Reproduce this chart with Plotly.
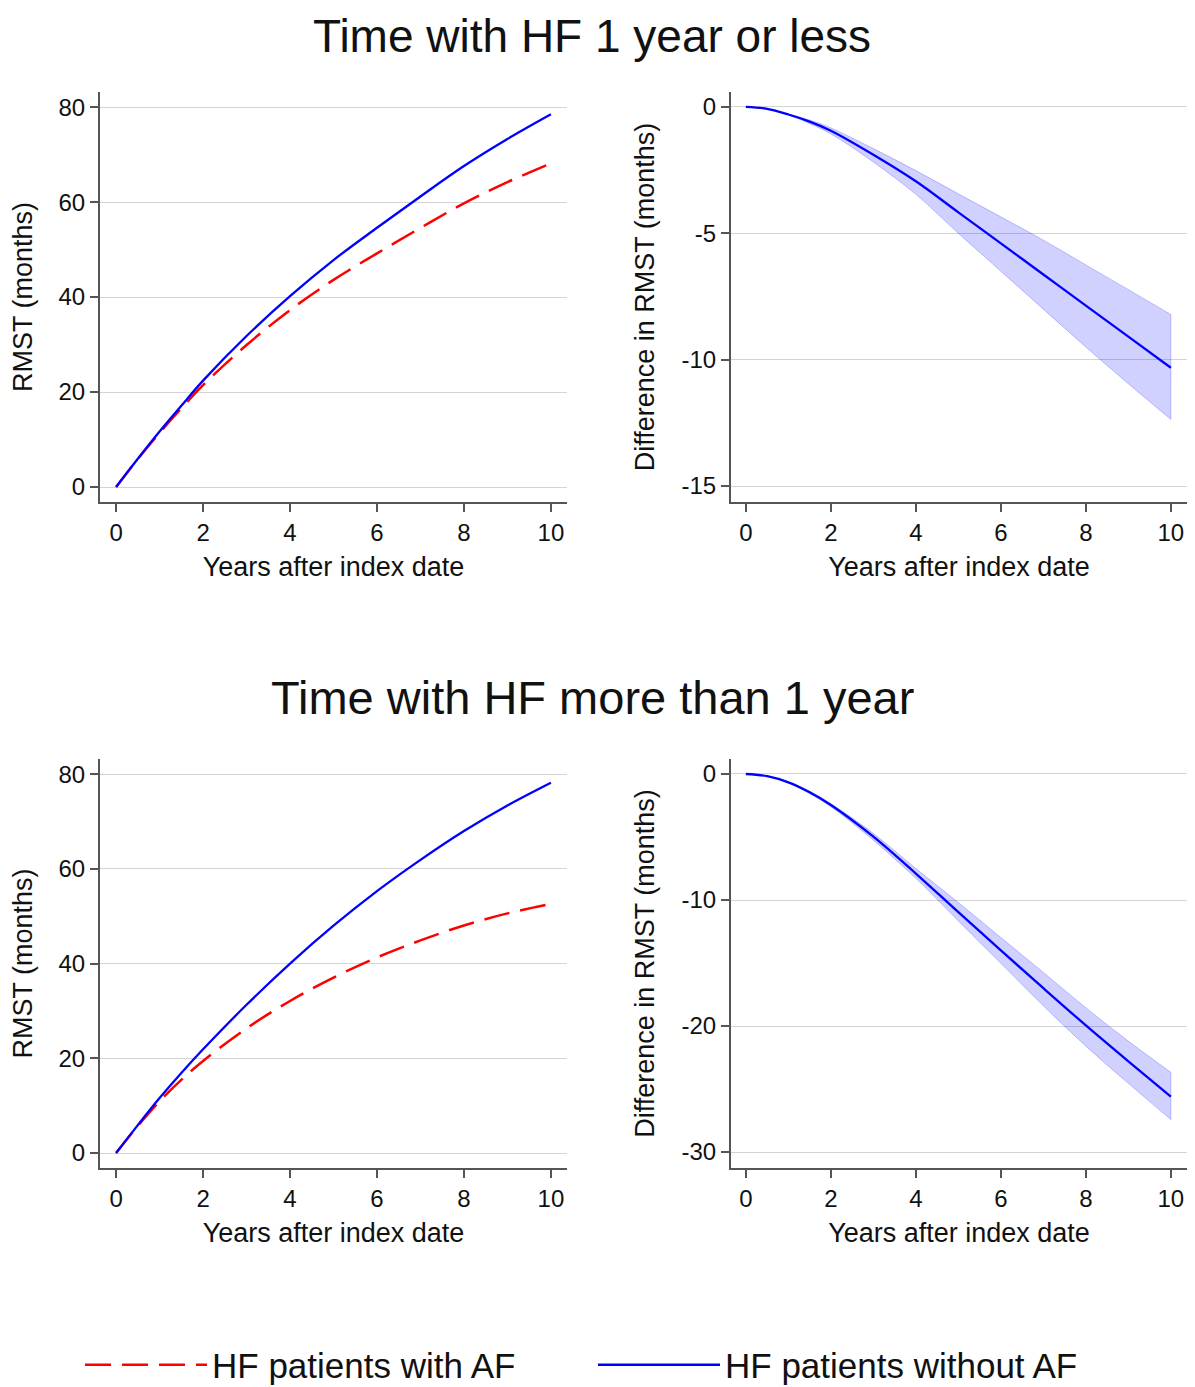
import plotly.graph_objects as go

# ---------------- data ----------------
years = [0, 0.5, 1, 1.5, 2, 3, 4, 5, 6, 7, 8, 9, 10]

# Panel A: time with HF 1 year or less
a_without_af = [0, 5.95, 11.7, 17.1, 22.4, 31.8, 40.2, 47.8, 54.6, 61.2, 67.6, 73.3, 78.5]
a_with_af = [0, 5.9, 11.4, 16.55, 21.45, 29.9, 37.26, 43.63, 49.2, 54.57, 59.74, 64.21, 68.18]
a_diff = [0, -0.08, -0.3, -0.58, -0.94, -1.89, -2.94, -4.17, -5.4, -6.63, -7.86, -9.09, -10.32]
a_diff_lo = [0, -0.09, -0.32, -0.66, -1.07, -2.18, -3.46, -5.0, -6.5, -8.0, -9.5, -10.95, -12.36]
a_diff_hi = [0, -0.07, -0.28, -0.52, -0.83, -1.65, -2.52, -3.44, -4.35, -5.27, -6.25, -7.23, -8.21]

# Panel B: time with HF more than 1 year
b_without_af = [0, 5.9, 11.6, 16.9, 21.9, 31.3, 40.0, 48.0, 55.3, 61.9, 68.0, 73.4, 78.2]
b_with_af = [0, 5.73, 10.94, 15.45, 19.44, 26.33, 32.1, 37.03, 41.3, 44.9, 48.05, 50.6, 52.6]
b_diff = [0, -0.17, -0.66, -1.45, -2.46, -4.97, -7.9, -10.97, -14.0, -17.0, -19.95, -22.8, -25.6]
b_diff_lo = [0, -0.18, -0.7, -1.55, -2.6, -5.25, -8.28, -11.66, -15.03, -18.4, -21.6, -24.55, -27.42]
b_diff_hi = [0, -0.16, -0.63, -1.37, -2.35, -4.72, -7.5, -10.2, -12.98, -15.75, -18.55, -21.2, -23.68]

x_ticks = [0, 2, 4, 6, 8, 10]
rmst_ticks = [0, 20, 40, 60, 80]
a_diff_ticks = [0, -5, -10, -15]
a_diff_ticklabels = ["0", "-5", "-10", "-15"]
b_diff_ticks = [0, -10, -20, -30]
b_diff_ticklabels = ["0", "-10", "-20", "-30"]

titles = ["Time with HF 1 year or less", "Time with HF more than 1 year"]
legend_names = ["HF patients with AF", "HF patients without AF"]
x_title = "Years after index date"
rmst_title = "RMST (months)"
diff_title = "Difference in RMST (months)"

# ---------------- styling ----------------
# the page body has an 8px margin, so the figure is 8px smaller than the window
OFF = 8
W, H = 1195 - OFF, 1387 - OFF
FONT = "Liberation Sans, Arial, sans-serif"
RED = "#ff0000"
BLUE = "#0000ff"
BAND_FILL = "rgba(0,0,255,0.18)"
BAND_LINE = "rgba(0,0,255,0.22)"
AXIS_COL = "#555555"
GRID_COL = "#d4d4d4"
TXT = "#111111"


def px_x(p):
    # p: screen x pixel in the 1195x1387 window
    return (p - OFF) / W


def py(p):
    return 1 - (p - OFF) / H


fig = go.Figure()

panels = [
    ("x", "y", "rmst", a_with_af, a_without_af),
    ("x2", "y2", "diff", a_diff, a_diff_lo, a_diff_hi),
    ("x3", "y3", "rmst", b_with_af, b_without_af),
    ("x4", "y4", "diff", b_diff, b_diff_lo, b_diff_hi),
]

for i, p in enumerate(panels):
    xa, ya, kind = p[0], p[1], p[2]
    if kind == "rmst":
        with_af, without_af = p[3], p[4]
        fig.add_trace(go.Scatter(
            x=years, y=with_af, xaxis=xa, yaxis=ya, mode="lines",
            line=dict(color=RED, width=2.5, dash="26px,11px", shape="spline"),
            name=legend_names[0], showlegend=(i == 0), legendrank=1,
            hoverinfo="skip"))
        fig.add_trace(go.Scatter(
            x=years, y=without_af, xaxis=xa, yaxis=ya, mode="lines",
            line=dict(color=BLUE, width=2.3, shape="spline"),
            name=legend_names[1], showlegend=(i == 0), legendrank=2,
            hoverinfo="skip"))
    else:
        diff, lo, hi = p[3], p[4], p[5]
        fig.add_trace(go.Scatter(
            x=years, y=lo, xaxis=xa, yaxis=ya, mode="lines",
            line=dict(color=BAND_LINE, width=1, shape="spline"),
            showlegend=False, hoverinfo="skip"))
        fig.add_trace(go.Scatter(
            x=years, y=hi, xaxis=xa, yaxis=ya, mode="lines",
            line=dict(color=BAND_LINE, width=1, shape="spline"),
            fill="tonexty", fillcolor=BAND_FILL,
            showlegend=False, hoverinfo="skip"))
        fig.add_trace(go.Scatter(
            x=[years[-1], years[-1]], y=[lo[-1], hi[-1]], xaxis=xa, yaxis=ya,
            mode="lines", line=dict(color=BAND_LINE, width=1),
            showlegend=False, hoverinfo="skip"))
        fig.add_trace(go.Scatter(
            x=years, y=diff, xaxis=xa, yaxis=ya, mode="lines",
            line=dict(color=BLUE, width=2.3, shape="spline"),
            showlegend=False, hoverinfo="skip"))

tick_font = dict(family=FONT, size=24, color=TXT)
title_font = dict(family=FONT, size=27, color=TXT)


def xaxis_cfg(domain, anchor, rng):
    return dict(
        domain=domain, anchor=anchor, range=rng, automargin=False,
        tickmode="array", tickvals=x_ticks,
        showline=True, linecolor=AXIS_COL, linewidth=2,
        ticks="outside", ticklen=8, tickwidth=2, tickcolor=AXIS_COL,
        showgrid=False, zeroline=False,
        tickfont=tick_font, ticklabelstandoff=0,
        title=dict(text=x_title, font=title_font, standoff=12),
    )


def yaxis_cfg(domain, anchor, rng, ticks, labels, title, standoff):
    return dict(
        domain=domain, anchor=anchor, range=rng, automargin=False,
        tickmode="array", tickvals=ticks, ticktext=labels,
        showline=True, linecolor=AXIS_COL, linewidth=2,
        ticks="outside", ticklen=8, tickwidth=2, tickcolor=AXIS_COL,
        showgrid=True, gridcolor=GRID_COL, gridwidth=1.2, zeroline=False,
        tickfont=tick_font, ticklabelstandoff=0,
        title=dict(text=title, font=title_font, standoff=standoff),
    )


left_dom = [px_x(100), px_x(567)]
right_dom = [px_x(731), px_x(1187)]
top_dom = [py(502), py(92)]
bot_dom = [py(1168), py(759)]
rmst_labels = [str(v) for v in rmst_ticks]

fig.update_layout(
    width=W, height=H,
    margin=dict(l=0, r=0, t=0, b=0, autoexpand=False),
    paper_bgcolor="white", plot_bgcolor="white",
    font=dict(family=FONT, color=TXT),
    xaxis=xaxis_cfg(left_dom, "y", [-0.37, 10.37]),
    yaxis=yaxis_cfg(top_dom, "x", [-3.16, 83.2], rmst_ticks, rmst_labels, rmst_title, 19),
    xaxis2=xaxis_cfg(right_dom, "y2", [-0.35, 10.38]),
    yaxis2=yaxis_cfg(top_dom, "x2", [-15.63, 0.59], a_diff_ticks, a_diff_ticklabels, diff_title, 19),
    xaxis3=xaxis_cfg(left_dom, "y3", [-0.37, 10.37]),
    yaxis3=yaxis_cfg(bot_dom, "x3", [-3.16, 83.2], rmst_ticks, rmst_labels, rmst_title, 19),
    xaxis4=xaxis_cfg(right_dom, "y4", [-0.35, 10.38]),
    yaxis4=yaxis_cfg(bot_dom, "x4", [-31.27, 1.19], b_diff_ticks, b_diff_ticklabels, diff_title, 19),
    legend=dict(
        orientation="h", x=px_x(80), xanchor="left",
        y=py(1365), yanchor="middle",
        font=dict(family=FONT, size=35, color=TXT),
        itemwidth=122, entrywidth=376, entrywidthmode="pixels",
        bgcolor="rgba(0,0,0,0)", traceorder="normal",
    ),
    annotations=[
        dict(text=titles[0], x=px_x(592), y=py(36), xref="paper", yref="paper",
             showarrow=False, xanchor="center", yanchor="middle",
             font=dict(family=FONT, size=46, color=TXT)),
        dict(text=titles[1], x=px_x(592), y=py(697), xref="paper", yref="paper",
             showarrow=False, xanchor="center", yanchor="middle",
             font=dict(family=FONT, size=47, color=TXT)),
    ],
)

fig.write_html("out.html")
